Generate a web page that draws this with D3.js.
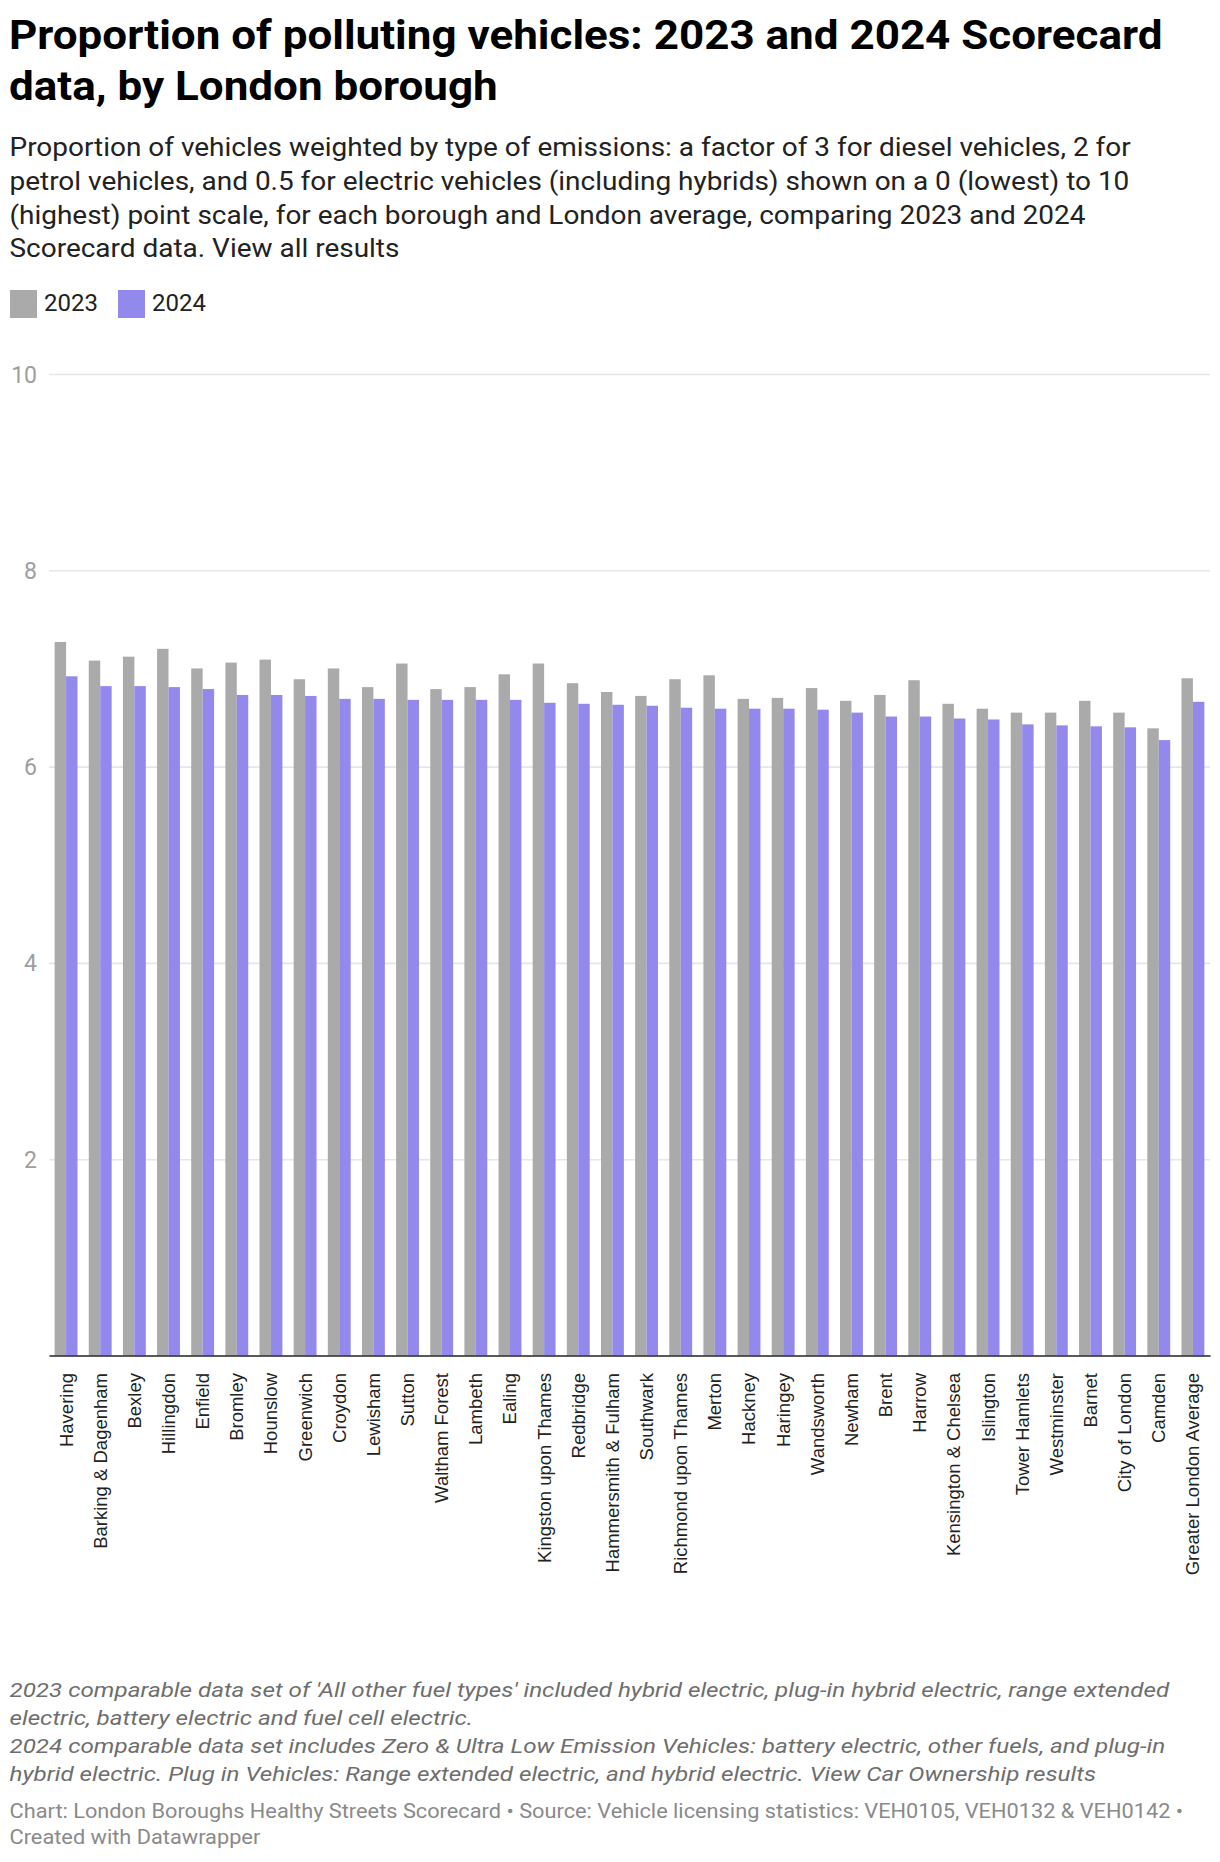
<!DOCTYPE html>
<html>
<head>
<meta charset="utf-8">
<script src="https://cdn.jsdelivr.net/npm/d3@7"></script>
<style>
  html, body { margin: 0; padding: 0; background: #fff; }
  svg { display: block; }
</style>
</head>
<body>
<div id="chart"></div>
<script>
const boroughs = ["Havering","Barking & Dagenham","Bexley","Hillingdon","Enfield","Bromley","Hounslow","Greenwich","Croydon","Lewisham","Sutton","Waltham Forest","Lambeth","Ealing","Kingston upon Thames","Redbridge","Hammersmith & Fulham","Southwark","Richmond upon Thames","Merton","Hackney","Haringey","Wandsworth","Newham","Brent","Harrow","Kensington & Chelsea","Islington","Tower Hamlets","Westminster","Barnet","City of London","Camden","Greater London Average"];
const values2023 = [7.27,7.08,7.12,7.20,7.00,7.06,7.09,6.89,7.00,6.81,7.05,6.79,6.81,6.94,7.05,6.85,6.76,6.72,6.89,6.93,6.69,6.70,6.80,6.67,6.73,6.88,6.64,6.59,6.55,6.55,6.67,6.55,6.39,6.90];
const values2024 = [6.92,6.82,6.82,6.81,6.79,6.73,6.73,6.72,6.69,6.69,6.68,6.68,6.68,6.68,6.65,6.64,6.63,6.62,6.60,6.59,6.59,6.59,6.58,6.55,6.51,6.51,6.49,6.48,6.43,6.42,6.41,6.40,6.27,6.66];
const seriesNames = ["2023","2024"];
const seriesColors = ["#aaaaaa","#9388ec"];
const yTicks = [2,4,6,8,10];

const titleLines = ["Proportion of polluting vehicles: 2023 and 2024 Scorecard","data, by London borough"];
const subtitleLines = [
  "Proportion of vehicles weighted by type of emissions: a factor of 3 for diesel vehicles, 2 for",
  "petrol vehicles, and 0.5 for electric vehicles (including hybrids) shown on a 0 (lowest) to 10",
  "(highest) point scale, for each borough and London average, comparing 2023 and 2024",
  "Scorecard data. View all results"];
const noteLines = [
  "2023 comparable data set of 'All other fuel types' included hybrid electric, plug-in hybrid electric, range extended",
  "electric, battery electric and fuel cell electric.",
  "2024 comparable data set includes Zero & Ultra Low Emission Vehicles: battery electric, other fuels, and plug-in",
  "hybrid electric. Plug in Vehicles: Range extended electric, and hybrid electric. View Car Ownership results"];
const sourceLines = [
  "Chart: London Boroughs Healthy Streets Scorecard \u2022 Source: Vehicle licensing statistics: VEH0105, VEH0132 & VEH0142 \u2022",
  "Created with Datawrapper"];

const W = 1220, H = 1862;
const svg = d3.select("#chart").append("svg").attr("width", W).attr("height", H)
  .style("font-family", "Roboto, 'Noto Sans', sans-serif");

// text block, horizontally fitted so its first line ends where the original's does
function textBlock(lines, opts) {
  const g = svg.append("g");
  g.selectAll("text").data(lines).join("text")
    .attr("x", 0).attr("y", (d,i) => opts.y + i*opts.lh)
    .attr("font-size", opts.size)
    .attr("font-weight", opts.weight || 400)
    .attr("font-style", opts.style || "normal")
    .attr("fill", opts.fill)
    .text(d => d);
  const w = g.select("text").node().getComputedTextLength();
  const sx = (opts.right - opts.x) / w;
  g.attr("transform", `translate(${opts.x},0) scale(${sx},1)`);
  return g;
}

textBlock(titleLines, {x: 9, y: 49, lh: 51.5, size: 40.5, weight: 700, fill: "#000", right: 1163});
textBlock(subtitleLines, {x: 9.5, y: 156.5, lh: 33.6, size: 25, fill: "#222", right: 1131});

// Legend
const legendX = [10, 118];
const leg = svg.append("g").selectAll("g").data(seriesNames).join("g")
  .attr("transform", (d,i) => `translate(${legendX[i]},290)`);
leg.append("rect").attr("width", 27).attr("height", 28).attr("fill", (d,i) => seriesColors[i]);
leg.append("text").attr("x", 34).attr("y", 20.5).attr("font-size", 24).attr("fill", "#222").text(d => d);

// Scales
const left = 49, right = 1210, y0 = 1355.5, yTop = 374;
const x0 = d3.scaleBand().domain(boroughs).range([left, right]).paddingInner(0.33).paddingOuter(0.165);
const x1 = d3.scaleBand().domain(seriesNames).range([0, x0.bandwidth()]);
const y = d3.scaleLinear().domain([0, 10]).range([y0, yTop]);
const color = d3.scaleOrdinal().domain(seriesNames).range(seriesColors);

// Gridlines + y axis
const yAxis = svg.append("g").attr("transform", `translate(${left},0)`)
  .call(d3.axisLeft(y).tickValues(yTicks).tickSize(-(right - left)).tickPadding(12).tickFormat(d3.format("d")));
yAxis.select(".domain").remove();
yAxis.selectAll(".tick line").attr("stroke", "#e6e6e6").attr("stroke-width", 1.6);
yAxis.selectAll(".tick text").attr("fill", "#9e9e9e").attr("font-size", 23)
  .attr("font-family", "Roboto, sans-serif").attr("dy", "0.35em");

// Bars
const rows = boroughs.map((b, i) => ({ borough: b, values: [values2023[i], values2024[i]] }));
svg.append("g").selectAll("g").data(rows).join("g")
  .attr("transform", d => `translate(${x0(d.borough)},0)`)
  .selectAll("rect").data(d => d.values.map((v, j) => ({ key: seriesNames[j], value: v })))
  .join("rect")
  .attr("x", d => x1(d.key))
  .attr("width", x1.bandwidth())
  .attr("y", d => y(d.value))
  .attr("height", d => y(0) - y(d.value))
  .attr("fill", d => color(d.key));

// X axis
const xAxis = svg.append("g").attr("transform", `translate(0,${y0})`)
  .call(d3.axisBottom(x0).tickSize(0).tickSizeOuter(0));
xAxis.select(".domain").attr("stroke", "#222").attr("stroke-width", 1.6);
xAxis.selectAll(".tick text")
  .attr("transform", "rotate(-90)")
  .attr("text-anchor", "end")
  .attr("x", -17.5).attr("y", 0).attr("dy", "0.35em")
  .attr("font-size", 18.5).attr("fill", "#222")
  .attr("font-family", "'Liberation Sans', Arial, sans-serif");

// Notes and source
textBlock(noteLines, {x: 9.5, y: 1697.5, lh: 27.8, size: 19.5, style: "italic", fill: "#6e6e6e", right: 1170});
textBlock(sourceLines, {x: 9.5, y: 1818.5, lh: 25.5, size: 19.5, fill: "#8a8a8a", right: 1184});
</script>
</body>
</html>
